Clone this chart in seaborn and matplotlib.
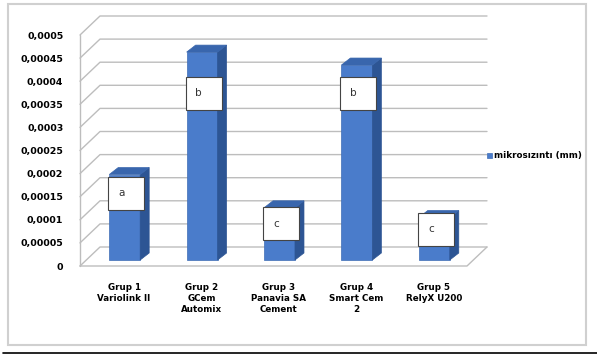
import numpy as np
import pandas as pd
import matplotlib
matplotlib.use("Agg")
import matplotlib.pyplot as plt
import seaborn as sns
from matplotlib.patches import Polygon, Rectangle
from matplotlib.lines import Line2D

# data
groups = ["Grup 1\nVariolink II", "Grup 2\nGCem\nAutomix", "Grup 3\nPanavia SA\nCement",
          "Grup 4\nSmart Cem\n2", "Grup 5\nRelyX U200"]
mikrosizinti = [0.000185, 0.00045, 0.000113, 0.000422, 0.000092]
letters = ["a", "b", "c", "b", "c"]
letter_y = [0.000145, 0.000361, 0.000078, 0.000361, 0.000067]
yticks = np.arange(0, 0.00050001, 0.00005)
ytick_labels = ["0", "0,00005", "0,0001", "0,00015", "0,0002", "0,00025",
                "0,0003", "0,00035", "0,0004", "0,00045", "0,0005"]

sns.set_style("white")
plt.rcParams["font.family"] = ["DejaVu Sans"]
plt.rcParams["text.color"] = "black"
plt.rcParams["xtick.color"] = "black"
plt.rcParams["ytick.color"] = "black"

W, H = 597, 354
fig = plt.figure(figsize=(W / 100, H / 100), dpi=100)
ax = fig.add_axes([80 / W, (H - 266) / H, 387 / W, 231 / H])

df = pd.DataFrame({"grup": groups, "val": mikrosizinti})
sns.barplot(data=df, x="grup", y="val", color="#4a7ccb", width=0.4, ax=ax,
            saturation=1, zorder=3)
ax.set_ylim(0, 0.0005)
ax.set_xlim(-0.5, 4.5)
ax.set_yticks(yticks)
ax.set_yticklabels(ytick_labels, fontsize=6.8, fontweight="bold", color="black")
ax.set_xticks(np.arange(len(groups)) + 0.07)
ax.set_xticklabels(groups, fontsize=6.3, fontweight="bold", linespacing=1.3, va="top",
                   color="black")
ax.tick_params(axis="x", length=0, pad=12)
ax.tick_params(axis="y", length=0, pad=12)
ax.set_xlabel("")
ax.set_ylabel("")
for s in ax.spines.values():
    s.set_visible(False)
ax.patch.set_alpha(0)

fig.canvas.draw()
T = ax.transData.transform
grid_col = "#bdbdbd"
DX, DY = 20, 19      # wall depth in px
BX, BY = 6, 6        # bar front offset
BDX, BDY = 9, 7      # bar depth

def px(x, y):
    return T((x, y))

x0, x1 = -0.5, 4.5
# back wall gridlines + diagonals
for v in yticks:
    (a, b) = px(x0, v)
    (c, _) = px(x1, v)
    fig.add_artist(Line2D([a, a + DX, c + DX], [b, b + DY, b + DY], transform=None,
                          color=grid_col, lw=1.0, zorder=1))
# front axis line and floor
(a, b0) = px(x0, 0)
(_, btop) = px(x0, 0.0005)
(c, _) = px(x1, 0)
fig.add_artist(Line2D([a, a], [b0, btop], transform=None, color=grid_col, lw=1.0))
fig.add_artist(Line2D([a, c, c + DX], [b0, b0, b0 + DY], transform=None,
                      color=grid_col, lw=1.0))

# 3D bars: front, side, top
for i, p in enumerate(ax.patches):
    bx, bw, bh = p.get_x(), p.get_width(), p.get_height()
    l, bot = px(bx, 0)
    r, top = px(bx + bw, bh)
    l, r, bot, top = l + BX, r + BX, bot + BY, top + BY
    p.set_visible(False)
    fig.add_artist(Rectangle((l, bot), r - l, top - bot, transform=None,
                             facecolor="#4a7ccb", edgecolor="#3f6db5", lw=0.5, zorder=3))
    fig.add_artist(Polygon([(r, bot), (r + BDX, bot + BDY), (r + BDX, top + BDY), (r, top)],
                           transform=None, facecolor="#2d5594", edgecolor="#2d5594",
                           lw=0.5, zorder=3))
    fig.add_artist(Polygon([(l, top), (l + BDX, top + BDY), (r + BDX, top + BDY), (r, top)],
                           transform=None, facecolor="#3966ad", edgecolor="#3966ad",
                           lw=0.5, zorder=3))
    # letter box
    _, cy = px(bx, letter_y[i])
    cy += BY
    fig.add_artist(Rectangle((l - 1, cy - 16.5), 36, 33, transform=None,
                             facecolor="white", edgecolor="#444444", lw=0.8, zorder=4))
    fig.text((l + 12) / W, cy / H, letters[i], fontsize=7.5, ha="center", va="center",
             color="#333333", zorder=5)

# legend
fig.add_artist(Rectangle((487, H - 158), 5, 5, transform=None, facecolor="#4a7ccb",
                         edgecolor="#3f6db5", lw=0.5))
fig.text(494 / W, (H - 155.5) / H, "mikrosızıntı (mm)", fontsize=6.3, fontweight="bold",
         va="center", ha="left", color="black")

# chart frame and bottom rule
fig.add_artist(Rectangle((8, H - 345), 578, 341, transform=None, fill=False,
                         edgecolor="#d0d0d0", lw=1.5))
fig.add_artist(Line2D([3, 597], [H - 352.5, H - 352.5], transform=None, color="black", lw=1.2))

fig.savefig("out.png", dpi=100)
